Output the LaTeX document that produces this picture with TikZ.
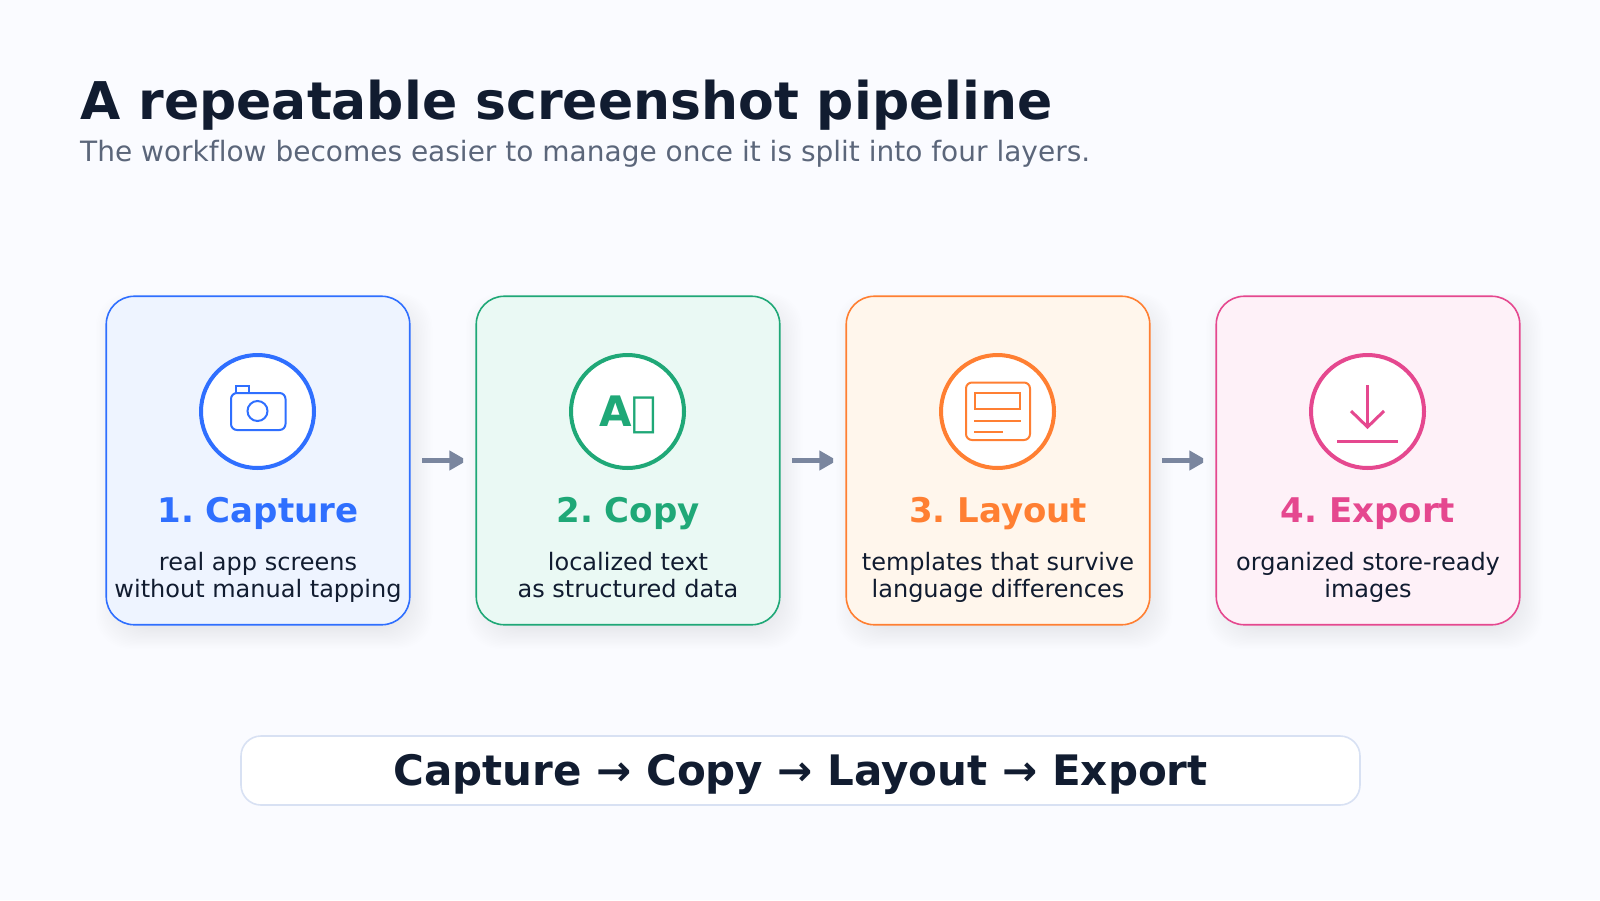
\documentclass[tikz,border=0pt]{standalone}
\usepackage{fontspec}
\setmainfont[Ligatures=NoCommon]{DejaVu Sans}
\usetikzlibrary{arrows.meta}
\definecolor{pagebg}{HTML}{FAFBFF}
\definecolor{inkdark}{HTML}{111C30}
\definecolor{inkgrey}{HTML}{5B667A}
\definecolor{arrowgrey}{HTML}{7A869F}
\definecolor{pillline}{HTML}{D8E1F3}
\definecolor{shadowink}{HTML}{1A2440}
\definecolor{capline}{HTML}{2F6FFF}
\definecolor{capfill}{HTML}{EEF4FF}
\definecolor{copyline}{HTML}{1FA877}
\definecolor{copyfill}{HTML}{EAF9F4}
\definecolor{layline}{HTML}{FF7F32}
\definecolor{layfill}{HTML}{FFF6EC}
\definecolor{expline}{HTML}{E5488F}
\definecolor{expfill}{HTML}{FEF1F8}
\tikzset{
  card/.style={draw=#1, line width=1.6pt, rounded corners=28pt, minimum width=303.5pt, minimum height=328.5pt, inner sep=0pt, outer sep=0pt},
  badge/.style={circle, draw=#1, fill=white, line width=4pt, minimum size=113pt, inner sep=0pt},
  icon/.style={draw=#1, line width=2pt},
  cardtitle/.style={text=#1, font=\fontsize{34}{40}\selectfont\bfseries, anchor=base},
  cardtext/.style={text=inkdark, font=\fontsize{24}{26.7}\selectfont, anchor=base, align=center, inner sep=0pt},
  flowarrow/.style={draw=arrowgrey, line width=5pt, -{Triangle[length=18pt,width=19pt]}},
}
\begin{document}
\frenchspacing
\begin{tikzpicture}[x=1pt,y=-1pt]
  \fill[pagebg] (0,0) rectangle (1600,900);
  \useasboundingbox (0,0) rectangle (1600,900);

  \node[anchor=base west, inner sep=0pt, text=inkdark, font=\fontsize{52}{60}\selectfont\bfseries] (heading) at (80,119.5) {A repeatable screenshot pipeline};
  \node[anchor=base west, inner sep=0pt, text=inkgrey, font=\fontsize{28}{32}\selectfont] (subheading) at (80,161) {The workflow becomes easier to manage once it is split into four layers.};

  \foreach \i/\xx/\col/\bg in {1/258/capline/capfill, 2/628/copyline/copyfill, 3/998/layline/layfill, 4/1368/expline/expfill}{
    \foreach \s in {1,...,20}
      \fill[shadowink, opacity=0.0042, rounded corners=34pt] (\xx-164+\s*1.5,292+\s) rectangle (\xx+176-\s*1.5,650-\s*1.2);
    \node[card=\col, fill=\bg] (card\i) at (\xx,460.5) {};
    \node[badge=\col] (badge\i) at (\xx-0.5,411.5) {};
  }

  \foreach \i/\j/\xx in {1/2/0, 2/3/370, 3/4/740}{
    \begin{scope}
      \clip (\xx+422,440) rectangle (\xx+463,480);
      \draw[flowarrow, shorten <=10pt, shorten >=9pt] (card\i.east) -- (card\j.west);
    \end{scope}
  }

  \node[cardtitle=capline] (title1) at (258,522) {1. Capture};
  \node[cardtitle=copyline] (title2) at (628,522) {2. Copy};
  \node[cardtitle=layline] (title3) at (998,522) {3. Layout};
  \node[cardtitle=expline] (title4) at (1368,522) {4. Export};

  \node[cardtext] (text1a) at (258,570) {real app screens};
  \node[cardtext] (text1b) at (258,597) {without manual tapping};
  \node[cardtext] (text2a) at (628,570) {localized text};
  \node[cardtext] (text2b) at (628,597) {as structured data};
  \node[cardtext] (text3a) at (998,570) {templates that survive};
  \node[cardtext] (text3b) at (998,597) {language differences};
  \node[cardtext] (text4a) at (1368,570) {organized store-ready};
  \node[cardtext] (text4b) at (1368,597) {images};

  \draw[icon=capline, rounded corners=6pt] (231,393) rectangle (285.5,430);
  \draw[icon=capline] (235.5,393) rectangle (249,385.5);
  \draw[icon=capline] (257.5,411) circle (10);

  \node[anchor=base, inner sep=0pt, text=copyline, font=\fontsize{42}{48}\selectfont\bfseries] (glyph) at (628,426) {A\XeTeXglyph 0};

  \draw[icon=layline, rounded corners=6pt] (966,382.5) rectangle (1030,440);
  \draw[icon=layline] (974.5,392.5) rectangle (1020,409);
  \draw[icon=layline] (974,420.7) -- (1021,420.7);
  \draw[icon=layline] (974,431.7) -- (1003,431.7);

  \draw[icon=expline, line width=3pt] (1367.5,385) -- (1367.5,427);
  \draw[icon=expline, line width=3pt] (1351,411) -- (1367.5,427) -- (1384,411);
  \draw[icon=expline, line width=3pt] (1337,441.5) -- (1398,441.5);

  \node[draw=pillline, fill=white, line width=1.6pt, rounded corners=20pt, minimum width=1119pt, minimum height=69pt, inner sep=0pt] (summary) at (800.5,770.5) {};
  \node[anchor=base, inner sep=0pt, text=inkdark, font=\fontsize{42}{48}\selectfont\bfseries] (summarytext) at (800.5,785) {Capture → Copy → Layout → Export};
\end{tikzpicture}
\end{document}
